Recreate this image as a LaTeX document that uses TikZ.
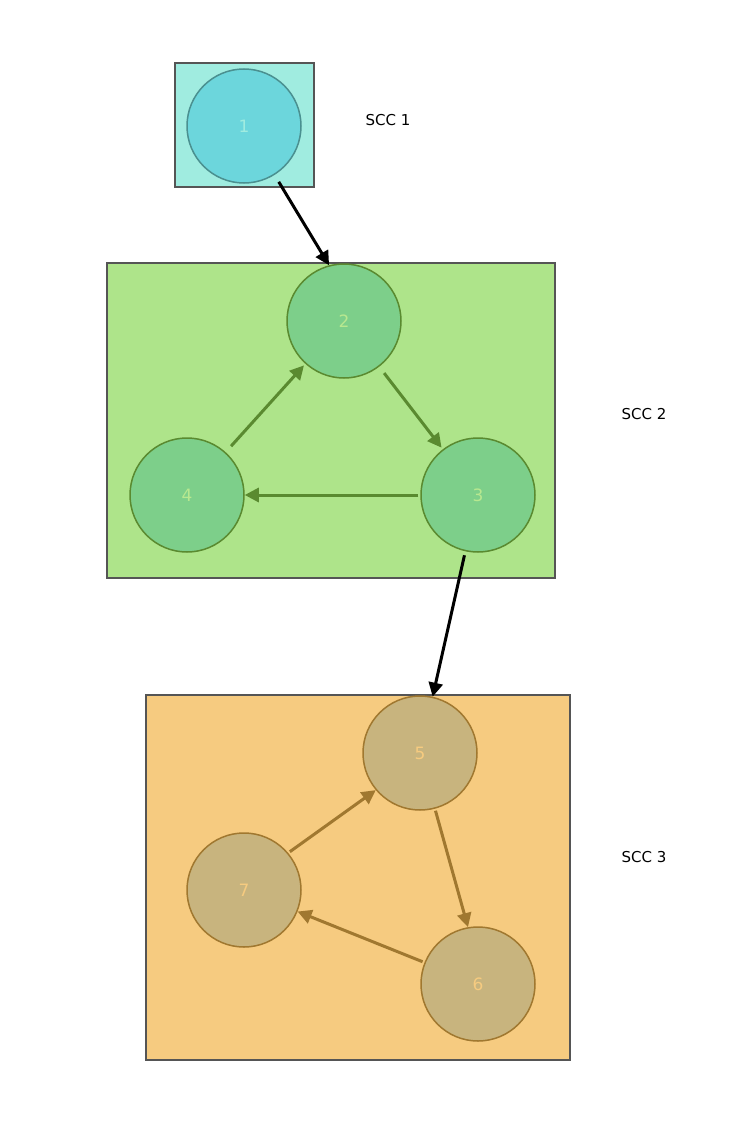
\documentclass[tikz,border=0pt]{standalone}
\usepackage{fontspec}
\setmainfont{DejaVu Sans}
\usetikzlibrary{arrows.meta}
\definecolor{boxone}{HTML}{A0ECE0}
\definecolor{cone}{HTML}{6CD6DC}
\definecolor{sone}{HTML}{4A9090}
\definecolor{boxtwo}{HTML}{AEE48A}
\definecolor{ctwo}{HTML}{7DCF8A}
\definecolor{stwo}{HTML}{5A8A30}
\definecolor{ttwo}{HTML}{B8E890}
\definecolor{boxthree}{HTML}{F6CB80}
\definecolor{cthree}{HTML}{C8B47E}
\definecolor{sthree}{HTML}{A07830}
\definecolor{edgegray}{HTML}{555555}
\begin{document}
\begin{tikzpicture}[x=1pt,y=-1pt,
  box/.style={draw=edgegray,line width=1.5pt},
  vert/.style={circle,minimum size=114pt,inner sep=0pt,line width=1.5pt,font=\fontsize{17}{20}\selectfont},
  lab/.style={font=\fontsize{15}{18}\selectfont},
  arr/.style={line width=3pt,-{Triangle[length=14pt,width=14pt]}}]
\useasboundingbox (0,0) rectangle (742,1140);
\fill[white] (0,0) rectangle (742,1140);
\draw[box,fill=boxone] (175,63) rectangle (314,187);
\draw[box,fill=boxtwo] (107,263) rectangle (555,578);
\draw[box,fill=boxthree] (146,695) rectangle (570,1060);
\node[vert,fill=cone,draw=sone,text=boxone] (c1) at (244,126) {1};
\node[vert,fill=ctwo,draw=stwo,text=ttwo] (c2) at (344,321) {2};
\node[vert,fill=ctwo,draw=stwo,text=ttwo] (c3) at (478,495) {3};
\node[vert,fill=ctwo,draw=stwo,text=ttwo] (c4) at (187,495) {4};
\node[vert,fill=cthree,draw=sthree,text=boxthree] (c5) at (420,753) {5};
\node[vert,fill=cthree,draw=sthree,text=boxthree] (c6) at (478,984) {6};
\node[vert,fill=cthree,draw=sthree,text=boxthree] (c7) at (244,890) {7};
\node[lab] (l1) at (388,120) {SCC 1};
\node[lab] (l2) at (644,414) {SCC 2};
\node[lab] (l3) at (644,857) {SCC 3};
\draw[arr,black,shorten <=8pt] (c1.-58) -- (c2.105);
\draw[arr,black,shorten <=4pt] (c3) -- (c5);
\draw[arr,stwo,shorten <=8pt,shorten >=2pt] (c2) -- (c3);
\draw[arr,stwo,shorten <=2pt] (c3) -- (c4);
\draw[arr,stwo,shorten <=8pt,shorten >=2pt] (c4) -- (c2);
\draw[arr,sthree,shorten <=2pt] (c5.-75) -- (c6.100);
\draw[arr,sthree,shorten <=2pt] (c6) -- (c7);
\draw[arr,sthree,shorten <=2pt] (c7.40) -- (c5.-140);
\end{tikzpicture}
\end{document}
